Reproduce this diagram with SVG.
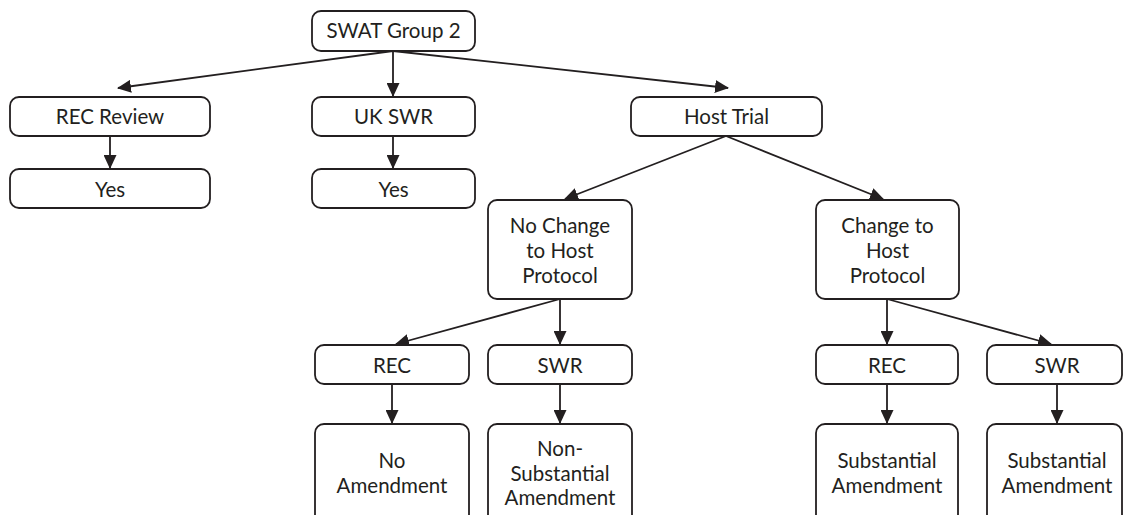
<svg xmlns="http://www.w3.org/2000/svg" width="1123" height="515" viewBox="0 0 1123 515">
<style>
.box{fill:#ffffff;stroke:#231f20;stroke-width:1.8}
.t{font-family:Lato,"Open Sans","Liberation Sans",sans-serif;font-size:20.5px;fill:#231f20;text-anchor:middle}
.c{stroke:#231f20;stroke-width:1.8;fill:none;marker-end:url(#ah)}
</style>
<defs>
<marker id="ah" markerUnits="userSpaceOnUse" markerWidth="14" markerHeight="13" viewBox="0 0 14 13" refX="13" refY="6.5" orient="auto">
<path d="M0,0 L14,6.5 L0,13 Z" fill="#231f20"/>
</marker>
</defs>
<rect width="1123" height="515" fill="#ffffff"/>
<g id="connectors">
<line class="c" x1="393" y1="51" x2="118" y2="88"/>
<line class="c" x1="393" y1="51" x2="393" y2="96"/>
<line class="c" x1="393" y1="51" x2="728" y2="88"/>
<line class="c" x1="110" y1="136" x2="110" y2="168"/>
<line class="c" x1="393" y1="136" x2="393" y2="168"/>
<line class="c" x1="726" y1="136" x2="565" y2="199"/>
<line class="c" x1="726" y1="136" x2="883" y2="199"/>
<line class="c" x1="560" y1="299" x2="396" y2="344"/>
<line class="c" x1="560" y1="299" x2="560" y2="344"/>
<line class="c" x1="392" y1="384" x2="392" y2="423"/>
<line class="c" x1="560" y1="384" x2="560" y2="423"/>
<line class="c" x1="887" y1="299" x2="887" y2="344"/>
<line class="c" x1="887" y1="299" x2="1051" y2="344"/>
<line class="c" x1="887" y1="384" x2="887" y2="423"/>
<line class="c" x1="1057" y1="384" x2="1057" y2="423"/>
</g>
<g id="swat">
<rect class="box" x="312" y="11" width="163" height="40" rx="9"/>
<text class="t" x="393.5" y="38">SWAT Group 2</text>
</g>
<g id="rec-review">
<rect class="box" x="10" y="97" width="200" height="39" rx="9"/>
<text class="t" x="110" y="124">REC Review</text>
</g>
<g id="yes-left">
<rect class="box" x="10" y="169" width="200" height="39" rx="9"/>
<text class="t" x="110" y="196.5">Yes</text>
</g>
<g id="uk-swr">
<rect class="box" x="312" y="97" width="163" height="39" rx="9"/>
<text class="t" x="393.5" y="124">UK SWR</text>
</g>
<g id="yes-mid">
<rect class="box" x="312" y="169" width="163" height="39" rx="9"/>
<text class="t" x="393.5" y="196.5">Yes</text>
</g>
<g id="host-trial">
<rect class="box" x="631" y="97" width="191" height="39" rx="9"/>
<text class="t" x="726.5" y="124">Host Trial</text>
</g>
<g id="no-change">
<rect class="box" x="488" y="200" width="144" height="99" rx="9"/>
<text class="t" x="560" y="232.5">No Change</text>
<text class="t" x="560" y="257.5">to Host</text>
<text class="t" x="560" y="282.5">Protocol</text>
</g>
<g id="change">
<rect class="box" x="816" y="200" width="143" height="99" rx="9"/>
<text class="t" x="887.5" y="232.5">Change to</text>
<text class="t" x="887.5" y="257.5">Host</text>
<text class="t" x="887.5" y="282.5">Protocol</text>
</g>
<g id="rec-mid">
<rect class="box" x="315" y="345" width="154" height="39" rx="9"/>
<text class="t" x="392" y="373">REC</text>
</g>
<g id="swr-mid">
<rect class="box" x="488" y="345" width="144" height="39" rx="9"/>
<text class="t" x="560" y="373">SWR</text>
</g>
<g id="rec-right">
<rect class="box" x="816" y="345" width="142" height="39" rx="9"/>
<text class="t" x="887" y="373">REC</text>
</g>
<g id="swr-right">
<rect class="box" x="987" y="345" width="135" height="39" rx="9"/>
<text class="t" x="1057" y="373">SWR</text>
</g>
<g id="no-amendment">
<rect class="box" x="315" y="424" width="154" height="112" rx="9"/>
<text class="t" x="392" y="467.5">No</text>
<text class="t" x="392" y="492.5">Amendment</text>
</g>
<g id="non-substantial">
<rect class="box" x="488" y="424" width="144" height="112" rx="9"/>
<text class="t" x="560" y="455.5">Non-</text>
<text class="t" x="560" y="480.5">Substantial</text>
<text class="t" x="560" y="504.5">Amendment</text>
</g>
<g id="substantial-rec">
<rect class="box" x="816" y="424" width="142" height="112" rx="9"/>
<text class="t" x="887" y="467.5">Substantial</text>
<text class="t" x="887" y="492.5">Amendment</text>
</g>
<g id="substantial-swr">
<rect class="box" x="987" y="424" width="135" height="112" rx="9"/>
<text class="t" x="1057" y="467.5">Substantial</text>
<text class="t" x="1057" y="492.5">Amendment</text>
</g>
</svg>
